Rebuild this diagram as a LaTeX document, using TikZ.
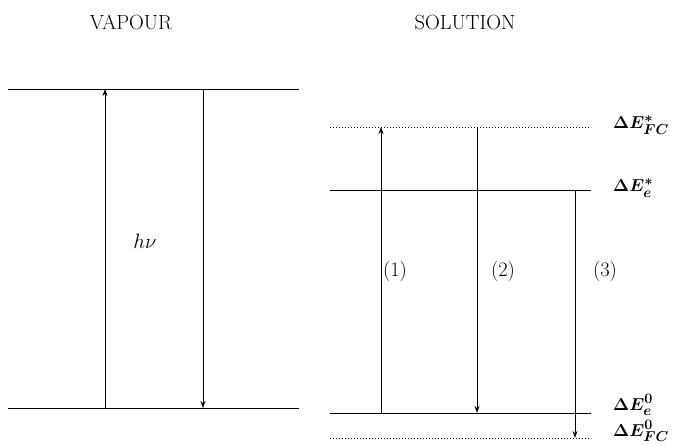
\documentclass[tikz,border=0pt]{standalone}
\usetikzlibrary{arrows.meta}
\begin{document}
\begin{tikzpicture}[x=1pt,y=-1pt,
  level/.style={line width=1pt},
  fclevel/.style={line width=1pt,dotted},
  trans/.style={line width=1pt,-{Stealth[length=7pt,width=5pt]}},
  lab/.style={font=\fontsize{20.5}{24}\selectfont},
  elab/.style={font=\fontsize{19}{22}\selectfont\boldmath,anchor=west,inner sep=0pt}]
\useasboundingbox (0,0) rectangle (691,445);
% titles
\node[lab] (tv) at (131,22) {VAPOUR};
\node[lab] (ts) at (465,22) {SOLUTION};
% vapour levels
\coordinate (v1l) at (8,89);  \coordinate (v1r) at (299,89);
\coordinate (v0l) at (8,408); \coordinate (v0r) at (299,408);
\draw[level] (v1l) -- (v1r);
\draw[level] (v0l) -- (v0r);
\coordinate (va0) at (105,408); \coordinate (va1) at (105,89);
\coordinate (vb1) at (203,89);  \coordinate (vb0) at (203,408);
\draw[trans] (va0) -- (va1);
\draw[trans] (vb1) -- (vb0);
\node[lab] (hv) at (145,241) {$h\nu$};
% solution levels
\coordinate (sfc1l) at (330,127); \coordinate (sfc1r) at (591,127);
\coordinate (se1l) at (330,190);  \coordinate (se1r) at (591,190);
\coordinate (se0l) at (330,413);  \coordinate (se0r) at (591,413);
\coordinate (sfc0l) at (330,438); \coordinate (sfc0r) at (591,438);
\draw[fclevel] (sfc1l) -- (sfc1r);
\draw[level] (se1l) -- (se1r);
\draw[level] (se0l) -- (se0r);
\draw[fclevel] (sfc0l) -- (sfc0r);
\node[elab] (l1) at (613,125) {$\Delta E^{*}_{FC}$};
\node[elab] (l2) at (613,188) {$\Delta E^{*}_{e}$};
\node[elab] (l3) at (613,405) {$\Delta E^{0}_{e}$};
\node[elab] (l4) at (613,431) {$\Delta E^{0}_{FC}$};
% transitions
\coordinate (a1s) at (381,413); \coordinate (a1e) at (381,127);
\coordinate (a2s) at (477,127); \coordinate (a2e) at (477,413);
\coordinate (a3s) at (575,190); \coordinate (a3e) at (575,438);
\draw[trans] (a1s) -- (a1e);
\draw[trans] (a2s) -- (a2e);
\draw[trans] (a3s) -- (a3e);
\node[lab] (n1) at (395,271) {(1)};
\node[lab] (n2) at (503,271) {(2)};
\node[lab] (n3) at (605,271) {(3)};
\end{tikzpicture}
\end{document}
